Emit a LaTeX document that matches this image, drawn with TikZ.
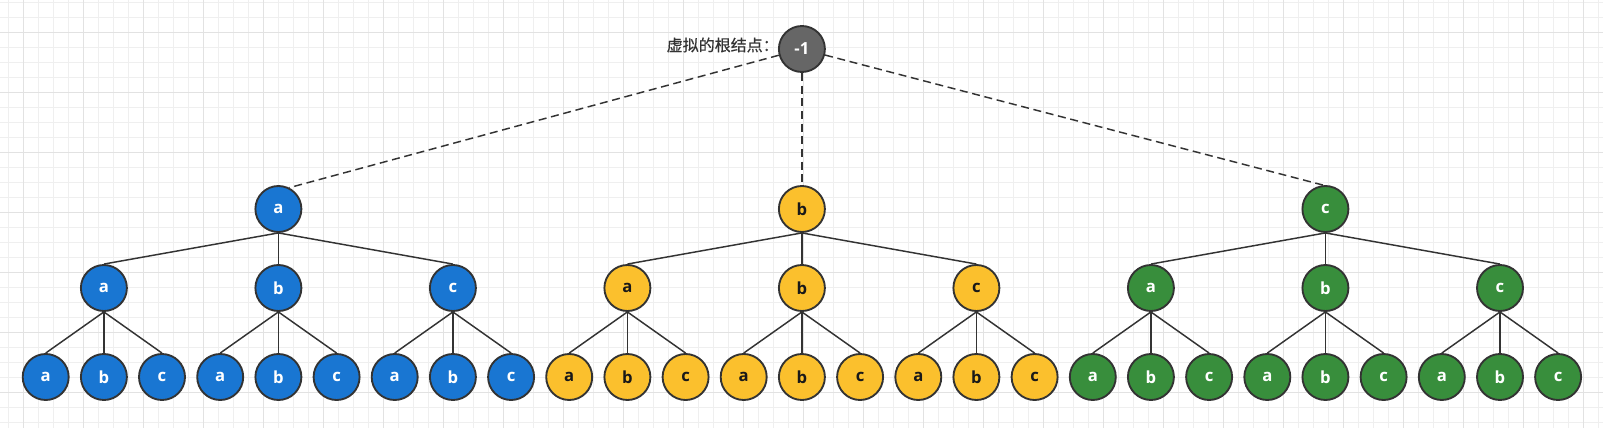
\documentclass[tikz,border=0pt]{standalone}
\usepackage{fontspec}
\setmainfont{Open Sans}
\newfontfamily\cjk[FakeBold=0.5]{Noto Sans CJK SC}
\definecolor{gridminor}{HTML}{EFEFEF}
\definecolor{gridmajor}{HTML}{E2E2E2}
\definecolor{edgegray}{HTML}{333333}
\definecolor{nodeblue}{HTML}{1976D2}
\definecolor{nodeyellow}{HTML}{FBC02D}
\definecolor{nodegreen}{HTML}{388E3C}
\definecolor{rootgray}{HTML}{666666}
\tikzset{
  vertex/.style={circle, draw=edgegray, line width=1.4pt, minimum size=34.5pt,
    inner sep=0pt, font=\bfseries\fontsize{12.5}{12.5}\selectfont},
  bluenode/.style={vertex, fill=nodeblue, text=white},
  yellownode/.style={vertex, fill=nodeyellow, text=black!90},
  greennode/.style={vertex, fill=nodegreen, text=white},
  rootnode/.style={vertex, fill=rootgray, text=white},
  treeedge/.style={draw=edgegray, line width=1.1pt},
  virtualedge/.style={treeedge, dash pattern=on 6pt off 3.5pt}
}
\begin{document}
\begin{tikzpicture}[x=0.75pt,y=-0.75pt]
  \useasboundingbox (0,0) rectangle (1603,428);
  % background grid
  \foreach \gx in {0,...,106}
    \draw[gridminor, line width=0.75pt] (8.3+15*\gx,0) -- (8.3+15*\gx,428);
  \foreach \gy in {0,...,28}
    \draw[gridminor, line width=0.75pt] (0,2.3+15*\gy) -- (1603,2.3+15*\gy);
  \foreach \gx in {0,...,26}
    \draw[gridmajor, line width=0.75pt] (23.3+60*\gx,0) -- (23.3+60*\gx,428);
  \foreach \gy in {0,...,6}
    \draw[gridmajor, line width=0.75pt] (0,32.3+60*\gy) -- (1603,32.3+60*\gy);

  % virtual root
  \node[rootnode] (r) at (801.9,49) {-1};
  \node[anchor=east, inner sep=0pt, text=edgegray, font=\cjk\fontsize{12}{12}\selectfont]
    (rlabel) at (779,45) {虚拟的根结点：};

  % level 1
  \node[bluenode] (a) at (278.4,209) {a};
  \node[yellownode] (b) at (801.9,209) {b};
  \node[greennode] (c) at (1325.4,209) {c};

  % level 2
  \node[bluenode] (aa) at (103.9,288) {a};
  \node[bluenode] (ab) at (278.4,288) {b};
  \node[bluenode] (ac) at (452.9,288) {c};
  \node[yellownode] (ba) at (627.4,288) {a};
  \node[yellownode] (bb) at (801.9,288) {b};
  \node[yellownode] (bc) at (976.4,288) {c};
  \node[greennode] (ca) at (1150.9,288) {a};
  \node[greennode] (cb) at (1325.4,288) {b};
  \node[greennode] (cc) at (1500.0,288) {c};

  % level 3
  \node[bluenode] (aaa) at (45.7,377) {a};
  \node[bluenode] (aab) at (103.9,377) {b};
  \node[bluenode] (aac) at (162.0,377) {c};
  \node[bluenode] (aba) at (220.2,377) {a};
  \node[bluenode] (abb) at (278.4,377) {b};
  \node[bluenode] (abc) at (336.6,377) {c};
  \node[bluenode] (aca) at (394.7,377) {a};
  \node[bluenode] (acb) at (452.9,377) {b};
  \node[bluenode] (acc) at (511.1,377) {c};
  \node[yellownode] (baa) at (569.2,377) {a};
  \node[yellownode] (bab) at (627.4,377) {b};
  \node[yellownode] (bac) at (685.6,377) {c};
  \node[yellownode] (bba) at (743.7,377) {a};
  \node[yellownode] (bbb) at (801.9,377) {b};
  \node[yellownode] (bbc) at (860.1,377) {c};
  \node[yellownode] (bca) at (918.3,377) {a};
  \node[yellownode] (bcb) at (976.4,377) {b};
  \node[yellownode] (bcc) at (1034.6,377) {c};
  \node[greennode] (caa) at (1092.8,377) {a};
  \node[greennode] (cab) at (1150.9,377) {b};
  \node[greennode] (cac) at (1209.1,377) {c};
  \node[greennode] (cba) at (1267.3,377) {a};
  \node[greennode] (cbb) at (1325.4,377) {b};
  \node[greennode] (cbc) at (1383.6,377) {c};
  \node[greennode] (cca) at (1441.8,377) {a};
  \node[greennode] (ccb) at (1500.0,377) {b};
  \node[greennode] (ccc) at (1558.1,377) {c};

  \begin{scope}
    \draw[virtualedge] (r) to (a.63);
    \draw[virtualedge] (r) to (b);
    \draw[virtualedge] (r) to (c.95);

    \draw[treeedge] (a.south) to (aa.north);
    \draw[treeedge] (a.south) to (ab.north);
    \draw[treeedge] (a.south) to (ac.north);
    \draw[treeedge] (b.south) to (ba.north);
    \draw[treeedge] (b.south) to (bb.north);
    \draw[treeedge] (b.south) to (bc.north);
    \draw[treeedge] (c.south) to (ca.north);
    \draw[treeedge] (c.south) to (cb.north);
    \draw[treeedge] (c.south) to (cc.north);

    \draw[treeedge] (aa.south) to (aaa.north);
    \draw[treeedge] (aa.south) to (aab.north);
    \draw[treeedge] (aa.south) to (aac.north);
    \draw[treeedge] (ab.south) to (aba.north);
    \draw[treeedge] (ab.south) to (abb.north);
    \draw[treeedge] (ab.south) to (abc.north);
    \draw[treeedge] (ac.south) to (aca.north);
    \draw[treeedge] (ac.south) to (acb.north);
    \draw[treeedge] (ac.south) to (acc.north);
    \draw[treeedge] (ba.south) to (baa.north);
    \draw[treeedge] (ba.south) to (bab.north);
    \draw[treeedge] (ba.south) to (bac.north);
    \draw[treeedge] (bb.south) to (bba.north);
    \draw[treeedge] (bb.south) to (bbb.north);
    \draw[treeedge] (bb.south) to (bbc.north);
    \draw[treeedge] (bc.south) to (bca.north);
    \draw[treeedge] (bc.south) to (bcb.north);
    \draw[treeedge] (bc.south) to (bcc.north);
    \draw[treeedge] (ca.south) to (caa.north);
    \draw[treeedge] (ca.south) to (cab.north);
    \draw[treeedge] (ca.south) to (cac.north);
    \draw[treeedge] (cb.south) to (cba.north);
    \draw[treeedge] (cb.south) to (cbb.north);
    \draw[treeedge] (cb.south) to (cbc.north);
    \draw[treeedge] (cc.south) to (cca.north);
    \draw[treeedge] (cc.south) to (ccb.north);
    \draw[treeedge] (cc.south) to (ccc.north);
  \end{scope}
\end{tikzpicture}
\end{document}
